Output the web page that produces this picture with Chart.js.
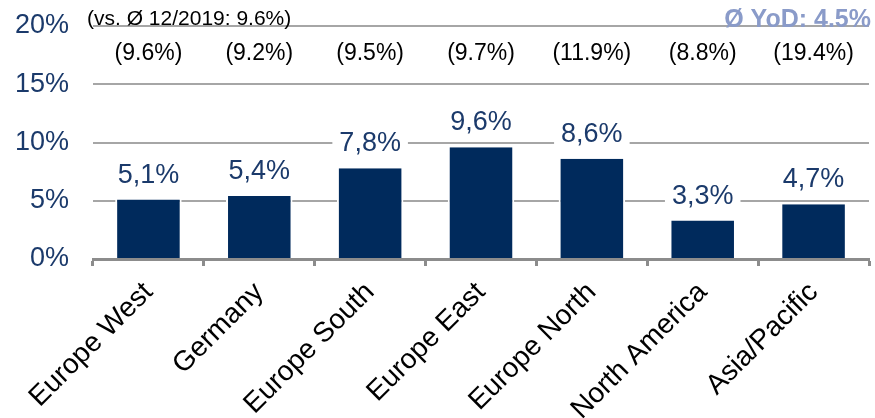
<!DOCTYPE html>
<html>
<head>
<meta charset="utf-8">
<script src="https://cdn.jsdelivr.net/npm/chart.js@4.4.1/dist/chart.umd.min.js"></script>
<style>
  body { margin: 0; background: #fff; }
  #wrap { width: 875px; height: 418px; }
</style>
</head>
<body>
<div id="wrap"><canvas id="grafico" width="875" height="418"></canvas></div>
<script>
// Datos
const regiones = ['Europe West', 'Germany', 'Europe South', 'Europe East', 'Europe North', 'North America', 'Asia/Pacific'];
const crecimiento = [5.1, 5.4, 7.8, 9.6, 8.6, 3.3, 4.7];
const anterior = [9.6, 9.2, 9.5, 9.7, 11.9, 8.8, 19.4];
const ticksY = [0, 5, 10, 15, 20];
const notaAnterior = '(vs. Ø 12/2019: 9.6%)';
const notaPromedio = 'Ø YoD: 4.5%';

const FUENTE = "'Liberation Sans', Arial, sans-serif";
const AZUL = '#002a5c';
const AZUL_TEXTO = '#1b3a6b';

// Etiquetas sobre las barras y notas de arriba
const etiquetas = {
    id: 'etiquetas',
    afterDatasetsDraw(chart) {
        const ctx = chart.ctx;
        const meta = chart.getDatasetMeta(0);
        ctx.save();

        // valores con fondo blanco (tapa la rejilla)
        ctx.font = `27px ${FUENTE}`;
        ctx.textAlign = 'center';
        ctx.textBaseline = 'alphabetic';
        meta.data.forEach((bar, i) => {
            const texto = crecimiento[i].toFixed(1).replace('.', ',') + '%';
            const w = ctx.measureText(texto).width;
            const base = bar.y - 17;
            ctx.fillStyle = '#fff';
            ctx.fillRect(bar.x - w / 2 - 7, base - 22, w + 14, 25);
            ctx.fillStyle = AZUL_TEXTO;
            ctx.fillText(texto, bar.x, base);
        });

        // valores del año anterior
        ctx.font = `23px ${FUENTE}`;
        ctx.fillStyle = '#000';
        meta.data.forEach((bar, i) => {
            ctx.fillText('(' + anterior[i].toFixed(1) + '%)', bar.x, 60);
        });

        ctx.textAlign = 'left';
        ctx.font = `21px ${FUENTE}`;
        ctx.fillText(notaAnterior, 87, 25);

        ctx.textAlign = 'right';
        ctx.font = `bold 25px ${FUENTE}`;
        ctx.fillStyle = '#8a9bc9';
        ctx.fillText(notaPromedio, 871, 27);
        ctx.restore();
    }
};

new Chart(document.getElementById('grafico').getContext('2d'), {
    type: 'bar',
    data: {
        labels: regiones,
        datasets: [{
            data: crecimiento,
            backgroundColor: AZUL,
            borderColor: '#fff',
            borderWidth: { left: 2, right: 2, top: 0, bottom: 0 },
            borderSkipped: false,
            barPercentage: 0.6,
            categoryPercentage: 1.0
        }]
    },
    options: {
        responsive: false,
        animation: false,
        layout: { padding: { top: 26, right: 6, left: 0, bottom: 0 } },
        plugins: {
            legend: { display: false },
            tooltip: { enabled: false }
        },
        scales: {
            x: {
                grid: {
                    drawOnChartArea: false,
                    drawTicks: true,
                    tickLength: 7,
                    tickWidth: 3,
                    tickColor: '#8c8c8c'
                },
                border: { display: true, color: '#8c8c8c', width: 3 },
                ticks: {
                    autoSkip: false,
                    minRotation: 45,
                    maxRotation: 45,
                    padding: 10,
                    color: '#000',
                    font: { family: FUENTE, size: 28 }
                },
                afterFit(scale) { scale.height = 159; }
            },
            y: {
                min: ticksY[0],
                max: ticksY[ticksY.length - 1],
                afterBuildTicks(scale) { scale.ticks = ticksY.map(v => ({ value: v })); },
                grid: { color: '#a6a6a6', lineWidth: 2, drawTicks: false },
                border: { display: false },
                ticks: {
                    padding: 24,
                    color: AZUL_TEXTO,
                    font: { family: FUENTE, size: 27 },
                    callback: v => v + '%'
                },
                afterFit(scale) {
                    scale.width = 93;
                    scale.paddingTop = 0;
                    scale.paddingBottom = 0;
                }
            }
        }
    },
    plugins: [etiquetas]
});
</script>
</body>
</html>
